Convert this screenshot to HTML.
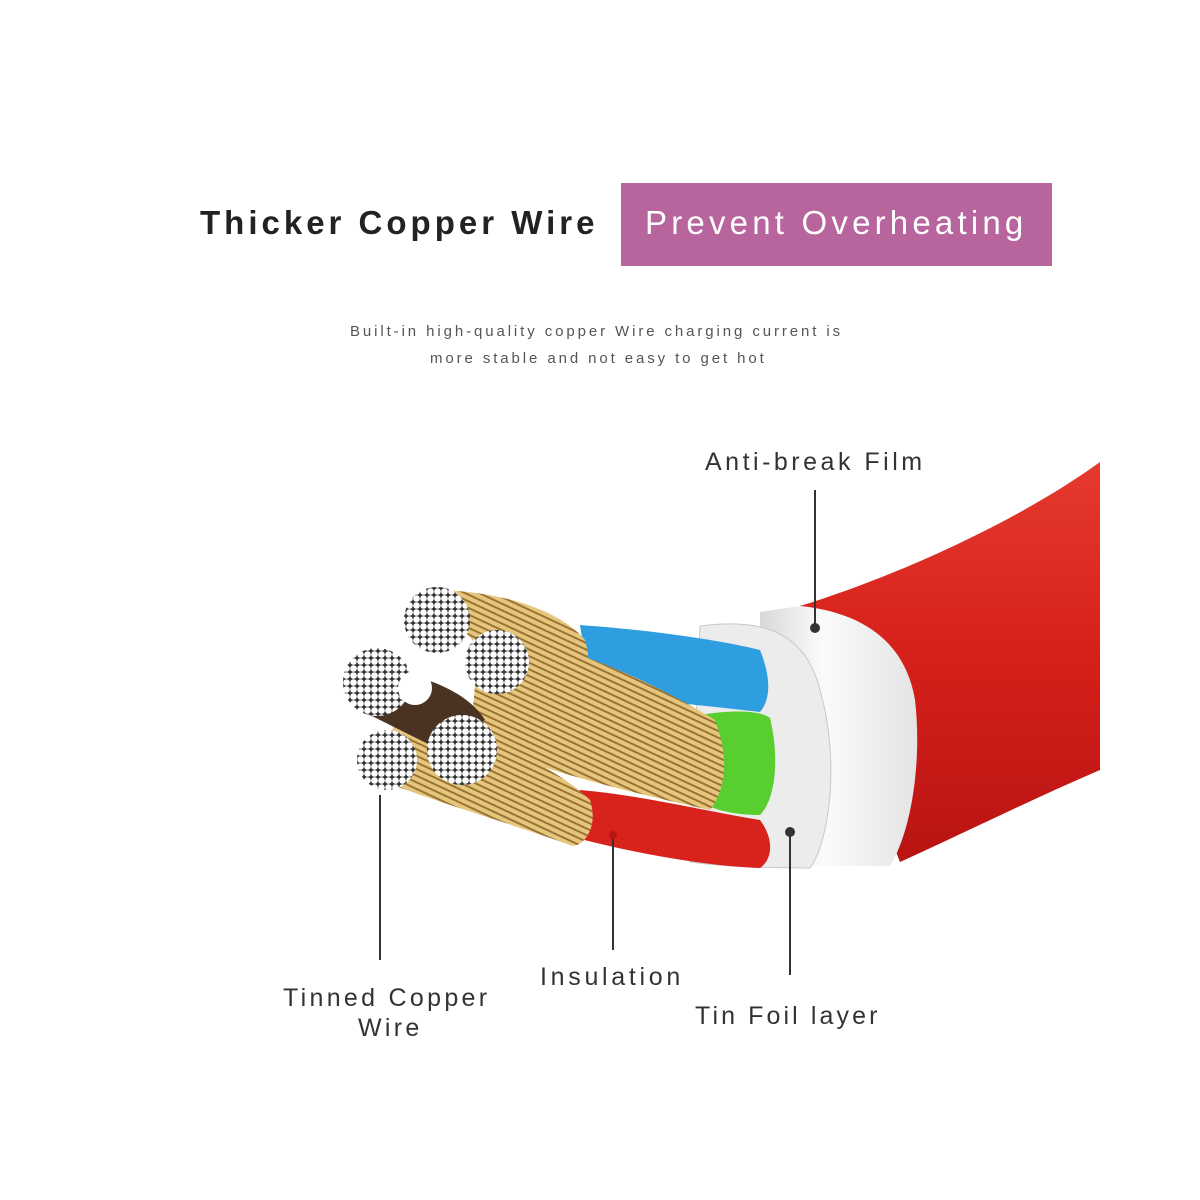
<!DOCTYPE html>
<html><head><meta charset="utf-8"><style>
html,body{margin:0;padding:0;background:#fff;}
svg{display:block}
text{font-family:"Liberation Sans",sans-serif;}
</style></head><body>
<svg width="1200" height="1200" viewBox="0 0 1200 1200" xmlns="http://www.w3.org/2000/svg">
<defs>
<linearGradient id="red" x1="0" y1="0" x2="0" y2="1">
<stop offset="0" stop-color="#e63a2e"/><stop offset="0.5" stop-color="#d51f1a"/><stop offset="1" stop-color="#b81412"/></linearGradient>
<linearGradient id="wht" x1="0" y1="0" x2="1" y2="0">
<stop offset="0" stop-color="#d8d8d8"/><stop offset="0.4" stop-color="#fbfbfb"/><stop offset="1" stop-color="#e4e4e4"/></linearGradient>
<pattern id="cu" width="6" height="6" patternUnits="userSpaceOnUse" patternTransform="rotate(25)">
<rect width="6" height="6" fill="#e6c67c"/><rect y="4" width="6" height="2" fill="#9a7434"/></pattern>
<pattern id="dots" width="7" height="7" patternUnits="userSpaceOnUse">
<rect width="7" height="7" fill="#333"/><circle cx="3.5" cy="3.5" r="3.3" fill="#fff"/></pattern>
</defs>
<rect width="1200" height="1200" fill="#fff"/>
<text x="200" y="234" font-size="33" font-weight="bold" fill="#222" letter-spacing="4">Thicker Copper Wire</text>
<rect x="621" y="183" width="431" height="83" fill="#b8649d"/>
<text x="645" y="234" font-size="33" fill="#fff" letter-spacing="4.2">Prevent Overheating</text>
<text x="350" y="336" font-size="15" fill="#555" letter-spacing="2.9">Built-in high-quality copper Wire charging current is</text>
<text x="430" y="363" font-size="15" fill="#555" letter-spacing="2.9">more stable and not easy to get hot</text>

<path d="M800,606 C900,575 1020,520 1100,462 L1100,770 C1030,800 960,835 900,862 Z" fill="url(#red)"/>
<path d="M800,606 C860,612 905,640 915,700 C922,760 912,830 890,866 L760,866 L760,612 Z" fill="url(#wht)"/>
<path d="M700,626 C760,618 805,630 820,690 C840,760 830,840 810,868 C760,868 720,866 690,862 Z" fill="#ececec" stroke="#c8c8c8"/>
<path d="M580,625 C650,630 720,640 760,650 C772,680 770,700 760,712 C700,705 640,700 590,690 Z" fill="#2f9ee0"/>
<path d="M700,715 C730,710 760,710 770,718 C780,760 775,800 760,815 C735,815 710,810 700,800 Z" fill="#58cf2e"/>
<path d="M580,790 C640,795 700,810 760,820 C775,840 772,860 760,868 C700,866 620,850 565,835 Z" fill="#d8221c"/>
<path d="M430,590 C500,590 560,610 585,640 C600,690 560,700 540,720 Z" fill="url(#cu)"/>
<path d="M480,630 C560,640 650,680 715,720 C730,760 725,790 710,810 C620,790 540,770 470,740 Z" fill="url(#cu)"/>
<path d="M400,700 C480,730 560,770 590,800 C600,830 580,850 570,845 C500,820 430,800 380,780 Z" fill="url(#cu)"/>
<path d="M380,670 C430,675 470,695 485,720 L440,750 L370,715 Z" fill="#4a3322"/>
<circle cx="437" cy="620" r="33" fill="url(#dots)"/>
<circle cx="497" cy="662" r="32" fill="url(#dots)"/>
<circle cx="377" cy="682" r="34" fill="url(#dots)"/>
<circle cx="415" cy="688" r="17" fill="#fff"/>
<circle cx="462" cy="750" r="35" fill="url(#dots)"/>
<circle cx="387" cy="760" r="30" fill="url(#dots)"/>

<g stroke="#333" stroke-width="2" fill="none">
<line x1="815" y1="490" x2="815" y2="628"/>
<line x1="380" y1="795" x2="380" y2="960"/>
<line x1="613" y1="838" x2="613" y2="950"/>
<line x1="790" y1="832" x2="790" y2="975"/>
</g>
<circle cx="815" cy="628" r="5" fill="#333"/>
<circle cx="790" cy="832" r="5" fill="#333"/>
<circle cx="613" cy="835" r="4" fill="#b81412"/>
<g font-size="25" fill="#333">
<text x="705" y="470" letter-spacing="3.5">Anti-break Film</text>
<text x="540" y="985" letter-spacing="3.7">Insulation</text>
<text x="695" y="1024" letter-spacing="3.1">Tin Foil layer</text>
<text x="283" y="1006" letter-spacing="3.3">Tinned Copper</text>
<text x="358" y="1036" letter-spacing="3.3">Wire</text>
</g>
</svg>
</body></html>
